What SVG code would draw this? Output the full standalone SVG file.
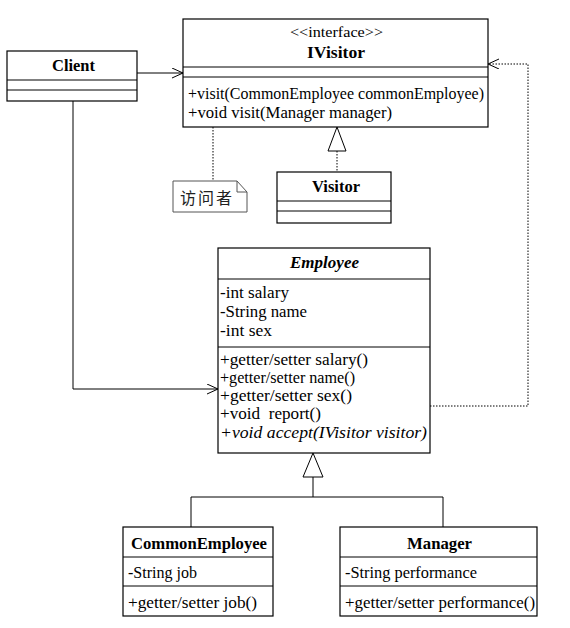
<svg xmlns="http://www.w3.org/2000/svg" width="570" height="628" viewBox="0 0 570 628">
<defs>
<style>
.box{fill:#fff;stroke:#000;stroke-width:1.2}
.div{stroke:#000;stroke-width:1}
.t{font-family:"Liberation Serif","Times New Roman",serif;font-size:16px;fill:#000;white-space:pre}
.b{font-weight:bold}
.c{text-anchor:middle}
.ln{fill:none;stroke:#000;stroke-width:1}
.dot{fill:none;stroke:#000;stroke-width:1;stroke-dasharray:1.5 1.5}
</style>
<marker id="open" markerWidth="12" markerHeight="12" refX="11" refY="5" orient="auto" markerUnits="userSpaceOnUse">
<path d="M0,0 L11,5 L0,10" fill="none" stroke="#000" stroke-width="1"/>
</marker>
</defs>
<rect width="570" height="628" fill="#fff"/>

<g id="connectors">
<path class="ln" d="M137,73 H183" marker-end="url(#open)"/>
<path class="ln" d="M73,101 V389 H218" marker-end="url(#open)"/>
<path class="dot" d="M430,406 H528 V64 H488" marker-end="url(#open)"/>
<path class="dot" d="M213,127 V181"/>
<path class="dot" d="M337,151 V172"/>
<polygon points="337,127 328,151 346,151" fill="#fff" stroke="#000" stroke-width="1"/>
<path class="ln" d="M313,477 V497 M191,497 H443 M191,497 V527 M443,497 V527"/>
<polygon points="313,453 303,477 323,477" fill="#fff" stroke="#000" stroke-width="1"/>
</g>

<g id="client">
<rect class="box" x="7" y="51" width="130" height="50"/>
<line class="div" x1="7" y1="80" x2="137" y2="80"/>
<line class="div" x1="7" y1="90" x2="137" y2="90"/>
<text class="t b" x="52" y="71" textLength="43" lengthAdjust="spacingAndGlyphs">Client</text>
</g>

<g id="ivisitor">
<rect class="box" x="183" y="19" width="305" height="108"/>
<line class="div" x1="183" y1="67" x2="488" y2="67"/>
<line class="div" x1="183" y1="77" x2="488" y2="77"/>
<text class="t" x="290" y="37" textLength="93" lengthAdjust="spacingAndGlyphs" style="font-size:15px">&lt;&lt;interface&gt;&gt;</text>
<text class="t b" x="307" y="58" textLength="58" lengthAdjust="spacingAndGlyphs">IVisitor</text>
<text class="t" x="188" y="99" textLength="296" lengthAdjust="spacingAndGlyphs">+visit(CommonEmployee commonEmployee)</text>
<text class="t" x="188" y="118" textLength="204" lengthAdjust="spacingAndGlyphs">+void visit(Manager manager)</text>
</g>

<g id="note">
<path d="M173,181 H237 L247,192 V212 H173 Z" fill="#fff" stroke="#555" stroke-width="1"/>
<path d="M237,181 V192 H247" fill="none" stroke="#555" stroke-width="1"/>
<text x="180" y="204" textLength="52" lengthAdjust="spacing" style="font-family:'Noto Sans CJK SC',sans-serif;font-size:16px" fill="#222">访问者</text>
</g>

<g id="visitor">
<rect class="box" x="277" y="172" width="114" height="51"/>
<line class="div" x1="277" y1="201" x2="391" y2="201"/>
<line class="div" x1="277" y1="211" x2="391" y2="211"/>
<text class="t b" x="312" y="192" textLength="48" lengthAdjust="spacingAndGlyphs">Visitor</text>
</g>

<g id="employee">
<rect class="box" x="218" y="248" width="212" height="205"/>
<line class="div" x1="218" y1="279" x2="430" y2="279"/>
<line class="div" x1="218" y1="347" x2="430" y2="347"/>
<text class="t b" x="290" y="268" font-style="italic" textLength="69" lengthAdjust="spacingAndGlyphs">Employee</text>
<text class="t" x="220" y="298" textLength="69" lengthAdjust="spacingAndGlyphs">-int salary</text>
<text class="t" x="220" y="317" textLength="87" lengthAdjust="spacingAndGlyphs">-String name</text>
<text class="t" x="220" y="336" textLength="52" lengthAdjust="spacingAndGlyphs">-int sex</text>
<text class="t" x="220" y="365" textLength="148" lengthAdjust="spacingAndGlyphs">+getter/setter salary()</text>
<text class="t" x="220" y="383" textLength="135" lengthAdjust="spacingAndGlyphs">+getter/setter name()</text>
<text class="t" x="220" y="401" textLength="132" lengthAdjust="spacingAndGlyphs">+getter/setter sex()</text>
<text class="t" x="220" y="419" textLength="101" lengthAdjust="spacingAndGlyphs">+void  report()</text>
<text class="t" x="220" y="438" font-style="italic" textLength="207" lengthAdjust="spacingAndGlyphs">+void accept(IVisitor visitor)</text>
</g>

<g id="commonemployee">
<rect class="box" x="123" y="527" width="150" height="89"/>
<line class="div" x1="123" y1="557" x2="273" y2="557"/>
<line class="div" x1="123" y1="586" x2="273" y2="586"/>
<text class="t b" x="131" y="549" textLength="136" lengthAdjust="spacingAndGlyphs">CommonEmployee</text>
<text class="t" x="128" y="578" textLength="69" lengthAdjust="spacingAndGlyphs">-String job</text>
<text class="t" x="128" y="608" textLength="129" lengthAdjust="spacingAndGlyphs">+getter/setter job()</text>
</g>

<g id="manager">
<rect class="box" x="340" y="527" width="197" height="89"/>
<line class="div" x1="340" y1="557" x2="537" y2="557"/>
<line class="div" x1="340" y1="586" x2="537" y2="586"/>
<text class="t b" x="407" y="549" textLength="65" lengthAdjust="spacingAndGlyphs">Manager</text>
<text class="t" x="345" y="578" textLength="132" lengthAdjust="spacingAndGlyphs">-String performance</text>
<text class="t" x="345" y="608" textLength="190" lengthAdjust="spacingAndGlyphs">+getter/setter performance()</text>
</g>
</svg>
